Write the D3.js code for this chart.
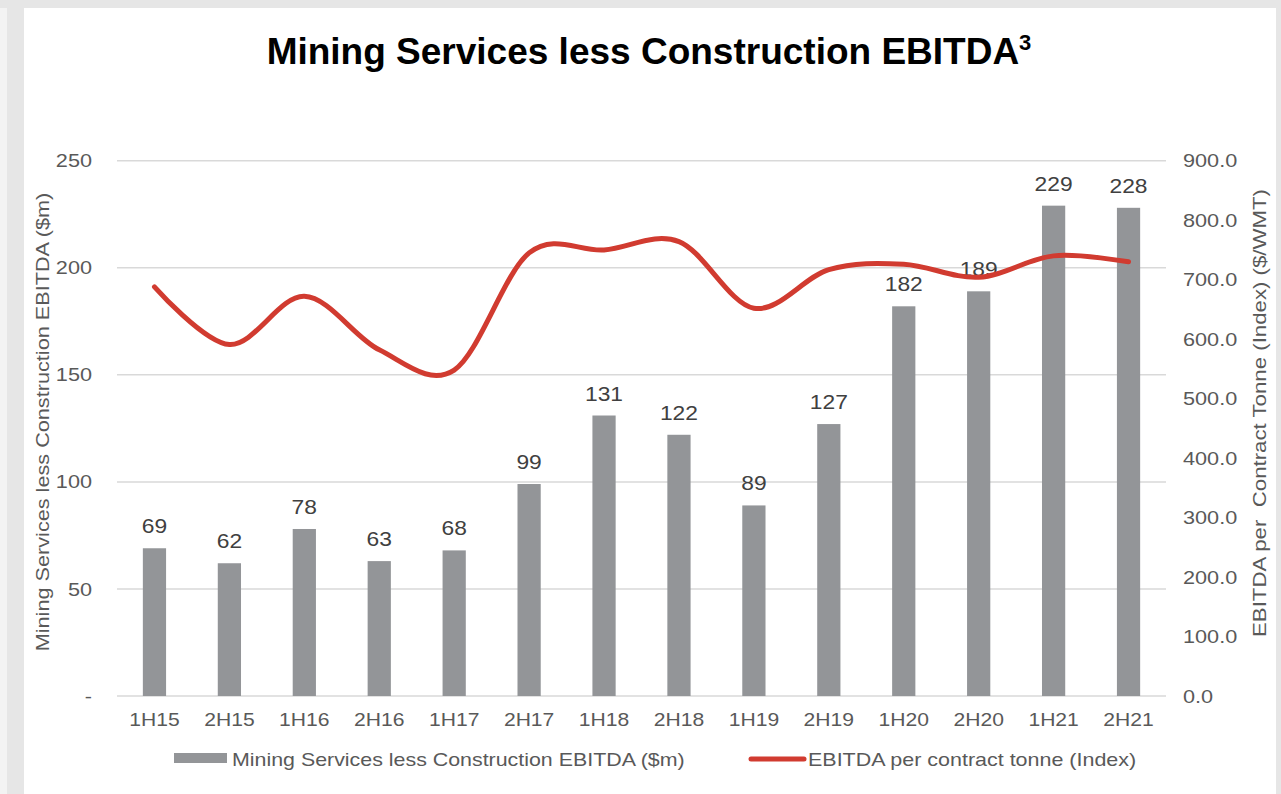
<!DOCTYPE html>
<html>
<head>
<meta charset="utf-8">
<script src="https://cdn.jsdelivr.net/npm/d3@7"></script>
<style>
  html, body { margin: 0; padding: 0; background: #e6e6e6; }
  svg { display: block; }
  text { font-family: "Liberation Sans", Arial, sans-serif; }
</style>
</head>
<body>
<svg id="chart" width="1281" height="794"></svg>
<script>
// Half-year periods
const periods = ["1H15","2H15","1H16","2H16","1H17","2H17","1H18","2H18","1H19","2H19","1H20","2H20","1H21","2H21"];
// Mining Services less Construction EBITDA ($m)
const ebitda = [69, 62, 78, 63, 68, 99, 131, 122, 89, 127, 182, 189, 229, 228];
// EBITDA per contract tonne (Index, $/WMT)
const perTonne = [688, 591, 672, 582, 548, 745, 750, 764, 652, 717, 726, 704, 740, 730];
// Axis ticks
const leftTicks = [0, 50, 100, 150, 200, 250];
const rightTicks = [0, 100, 200, 300, 400, 500, 600, 700, 800, 900];

const svg = d3.select("#chart");

// Body text is set slightly wide
const WIDE = 1.14;
function widen(sel, k = WIDE) {
  sel.each(function () {
    const w = this.getComputedTextLength();
    d3.select(this).attr("textLength", w * k).attr("lengthAdjust", "spacingAndGlyphs");
  });
  return sel;
}

// Page frame: grey margin with the white card
svg.append("rect").attr("x", 0).attr("y", 0).attr("width", 1281).attr("height", 794).attr("fill", "#e6e6e6");
svg.append("rect").attr("x", 0).attr("y", 8).attr("width", 7).attr("height", 786).attr("fill", "#f3f3f3");
svg.append("rect").attr("x", 24).attr("y", 8).attr("width", 1252).attr("height", 786).attr("fill", "#ffffff");

const plot = { left: 117, right: 1166, top: 160.7, bottom: 696 };

const x = d3.scaleBand().domain(periods).range([plot.left, plot.right])
  .paddingInner(0.69).paddingOuter(0.345);
const yL = d3.scaleLinear().domain([0, 250]).range([plot.bottom, plot.top]);
const yR = d3.scaleLinear().domain([0, 900]).range([plot.bottom, plot.top]);

// Title
const title = svg.append("text")
  .attr("x", 649).attr("y", 64)
  .attr("text-anchor", "middle")
  .attr("font-size", 37).attr("font-weight", "bold").attr("fill", "#000");
title.append("tspan").text("Mining Services less Construction EBITDA");
title.append("tspan").attr("font-size", 22).attr("dy", -14).text("3");

// Gridlines
svg.append("g")
  .selectAll("line").data(leftTicks).join("line")
  .attr("x1", plot.left).attr("x2", plot.right)
  .attr("y1", d => yL(d)).attr("y2", d => yL(d))
  .attr("stroke", "#d9d9d9").attr("stroke-width", 1.5);

const tickFont = 19;
const textGrey = "#595959";

// Left axis
const axL = svg.append("g").attr("transform", `translate(${plot.left},0)`)
  .call(d3.axisLeft(yL).tickValues(leftTicks).tickSize(0).tickPadding(25)
    .tickFormat(d => d === 0 ? "-" : d3.format("d")(d)));
axL.select(".domain").remove();
widen(axL.selectAll("text").attr("font-size", tickFont).attr("fill", textGrey)
  .attr("font-family", "Liberation Sans, Arial, sans-serif"));

// Right axis
const axR = svg.append("g").attr("transform", `translate(${plot.right},0)`)
  .call(d3.axisRight(yR).tickValues(rightTicks).tickSize(0).tickPadding(17)
    .tickFormat(d3.format(".1f")));
axR.select(".domain").remove();
widen(axR.selectAll("text").attr("font-size", tickFont).attr("fill", textGrey)
  .attr("font-family", "Liberation Sans, Arial, sans-serif"));

// Bottom axis labels
const axB = svg.append("g").attr("transform", `translate(0,${plot.bottom})`)
  .call(d3.axisBottom(x).tickSize(0).tickPadding(17));
axB.select(".domain").remove();
widen(axB.selectAll("text").attr("font-size", tickFont).attr("fill", textGrey)
  .attr("font-family", "Liberation Sans, Arial, sans-serif"), 1.11);

// Axis titles
widen(svg.append("text")
  .attr("transform", `translate(49,422) rotate(-90)`)
  .attr("text-anchor", "middle").attr("font-size", tickFont).attr("fill", textGrey)
  .text("Mining Services less Construction EBITDA ($m)"));
widen(svg.append("text")
  .attr("transform", `translate(1266,413) rotate(-90)`)
  .attr("text-anchor", "middle").attr("font-size", tickFont).attr("fill", textGrey)
  .attr("xml:space", "preserve")
  .text("EBITDA per  Contract Tonne (Index) ($/WMT)"), 1.17);

// Bars
const barColor = "#939598";
svg.append("g")
  .selectAll("rect").data(ebitda).join("rect")
  .attr("x", (d, i) => x(periods[i]))
  .attr("width", x.bandwidth())
  .attr("y", d => yL(d))
  .attr("height", d => yL(0) - yL(d))
  .attr("fill", barColor);

// Bar value labels
widen(svg.append("g")
  .selectAll("text").data(ebitda).join("text")
  .attr("x", (d, i) => x(periods[i]) + x.bandwidth() / 2)
  .attr("y", d => yL(d) - 15)
  .attr("text-anchor", "middle").attr("font-size", 20).attr("fill", "#404040")
  .text(d => d));

// Smoothed line on the right axis
const lineColor = "#d13b30";
const line = d3.line()
  .x((d, i) => x(periods[i]) + x.bandwidth() / 2)
  .y(d => yR(d))
  .curve(d3.curveCardinal.tension(0));
svg.append("path")
  .datum(perTonne)
  .attr("d", line)
  .attr("fill", "none").attr("stroke", lineColor)
  .attr("stroke-width", 5).attr("stroke-linecap", "round").attr("stroke-linejoin", "round");

// Legend
const lg = svg.append("g");
lg.append("rect").attr("x", 174).attr("y", 753).attr("width", 53).attr("height", 10).attr("fill", barColor);
widen(lg.append("text").attr("x", 232).attr("y", 766).attr("font-size", tickFont).attr("fill", textGrey)
  .text("Mining Services less Construction EBITDA ($m)"), 1.125);
lg.append("line").attr("x1", 751).attr("x2", 804).attr("y1", 759).attr("y2", 759)
  .attr("stroke", lineColor).attr("stroke-width", 5).attr("stroke-linecap", "round");
widen(lg.append("text").attr("x", 808).attr("y", 766).attr("font-size", tickFont).attr("fill", textGrey)
  .text("EBITDA per contract tonne (Index)"), 1.13);
</script>
</body>
</html>
